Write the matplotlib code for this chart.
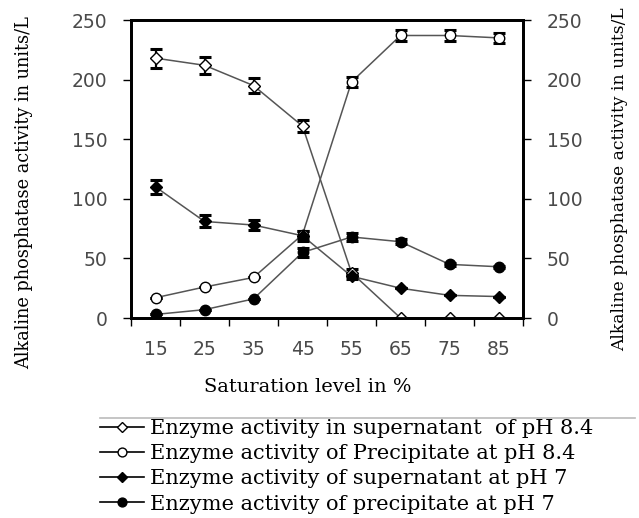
import numpy as np
import matplotlib.pyplot as plt
from matplotlib.lines import Line2D

saturation = [15, 25, 35, 45, 55, 65, 75, 85]

sup_84 = [218, 212, 195, 161, 38, 0, 0, 0]
sup_84_err = [8, 7, 6, 5, 3, 0, 0, 0]
prec_84 = [17, 26, 34, 70, 198, 237, 237, 235]
prec_84_err = [0, 0, 0, 3, 4, 5, 5, 4]
sup_7 = [110, 81, 78, 69, 35, 25, 19, 18]
sup_7_err = [6, 5, 4, 4, 2, 0, 0, 0]
prec_7 = [3, 7, 16, 55, 68, 64, 45, 43]
prec_7_err = [0, 0, 0, 4, 3, 2, 1, 1]

labels = ["Enzyme activity in supernatant  of pH 8.4",
          "Enzyme activity of Precipitate at pH 8.4",
          "Enzyme activity of supernatant at pH 7",
          "Enzyme activity of precipitate at pH 7"]
ylab = "Alkaline phosphatase activity in units/L"

serif = "DejaVu Serif"
tickfont = "DejaVu Sans"
tickcol = "#4a4a4a"

fig = plt.figure(figsize=(6.39, 5.18), dpi=100)
W, H = 639, 518
ax = fig.add_axes([131 / W, 1 - 318 / H, 392 / W, 298 / H])

line_col = "#555555"
styles = [
    (sup_84, sup_84_err, "D", "white", 6),
    (prec_84, prec_84_err, "o", "white", 7.5),
    (sup_7, sup_7_err, "D", "black", 6),
    (prec_7, prec_7_err, "o", "black", 7.5),
]
for vals, err, m, fc, ms in styles:
    ax.plot(saturation, vals, color=line_col, lw=1.1, zorder=2)
    ax.errorbar(saturation, vals, yerr=err, fmt="none", ecolor="black",
                elinewidth=1.6, capsize=4.5, capthick=2.2, zorder=3)
    ax.plot(saturation, vals, ls="none", marker=m, ms=ms, mfc=fc,
            mec="black", mew=1.0, zorder=4)

ax.set_xlim(10, 90)
ax.set_ylim(0, 250)
ax.set_xticks(np.arange(10, 91, 10))
ax.set_xticklabels([])
ax.set_xticks(saturation, minor=True)
ax.set_xticklabels([str(s) for s in saturation], minor=True,
                   fontfamily=tickfont, fontsize=13.5, color=tickcol)
ax.tick_params(axis="x", which="minor", length=0, pad=16)
ax.tick_params(axis="x", which="major", length=6, width=1, direction="out")
ax.set_yticks(np.arange(0, 251, 50))
ax.tick_params(axis="y", length=6, width=1, direction="out",
               labelsize=13.5, pad=11, labelcolor=tickcol)
for t in ax.get_yticklabels():
    t.set_fontfamily(tickfont)
for s in ax.spines.values():
    s.set_linewidth(2)
ax.set_ylabel(ylab, fontfamily=serif, fontsize=12.8)
ax.yaxis.set_label_coords(-0.25, 0.42)
ax.set_xlabel("Saturation level in %", fontfamily=serif, fontsize=14)
ax.xaxis.set_label_coords(0.452, -0.2)

ax2 = ax.twinx()
ax2.set_ylim(0, 250)
ax2.set_yticks(np.arange(0, 251, 50))
ax2.tick_params(axis="y", length=6, width=1, direction="out",
                labelsize=13.5, pad=11, labelcolor=tickcol)
for t in ax2.get_yticklabels():
    t.set_fontfamily(tickfont)
ax2.set_ylabel(ylab, fontfamily=serif, fontsize=12.3, rotation=90)
ax2.yaxis.set_label_coords(1.224, 0.466)
for s in ax2.spines.values():
    s.set_linewidth(2)

# separator above legend
fig.add_artist(Line2D([100 / W, 635 / W], [1 - 418 / H, 1 - 418 / H],
                      color="#bbbbbb", lw=1.2))

handles = []
for vals, err, m, fc, ms in styles:
    handles.append(Line2D([], [], color="black", lw=1.2, marker=m,
                          ms=ms * 0.85, mfc=fc, mec="black"))
fig.legend(handles, labels, loc="upper left",
           bbox_to_anchor=(100 / W, 1 - 419 / H),
           frameon=False, prop={"family": serif, "size": 15},
           handlelength=2.1, handletextpad=0.3, labelspacing=0.3,
           borderaxespad=0, borderpad=0)

fig.savefig("out.png", dpi=100)
